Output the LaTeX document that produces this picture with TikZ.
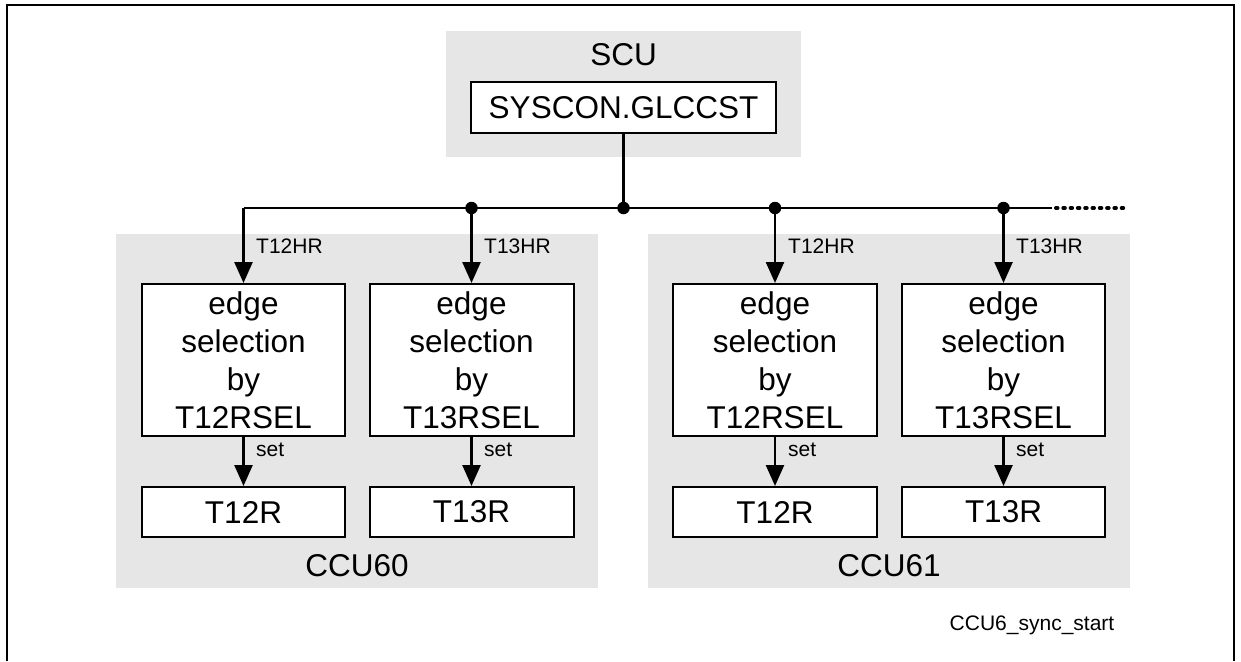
\documentclass[tikz,border=0pt]{standalone}
\usepackage{fontspec}
\setmainfont{Liberation Sans}
\usetikzlibrary{arrows.meta,calc}
\definecolor{bggray}{HTML}{E6E6E6}
\tikzset{
  grayarea/.style={fill=bggray, draw=none, inner sep=0pt},
  regbox/.style={draw=black, fill=white, line width=2pt, inner sep=0pt, align=center, font=\fontsize{31.5}{38}\selectfont},
  bigtxt/.style={inner sep=0pt, font=\fontsize{31.5}{38}\selectfont},
  smalltxt/.style={inner sep=0pt, font=\fontsize{21}{25}\selectfont},
  wire/.style={line width=2.5pt},
  arr/.style={line width=2.5pt, -{Triangle[length=21pt,width=18pt]}},
  junction/.style={circle, fill=black, inner sep=0pt, minimum size=12.5pt}
}
\begin{document}
\begin{tikzpicture}[x=1pt,y=-1pt]
\useasboundingbox (0,0) rectangle (1241,661);
% outer frame (bottom edge lies outside the picture)
\draw[line width=2pt] (7,661) -- (7,5) -- (1234,5) -- (1234,661);

% gray areas
\node[grayarea, minimum width=355pt, minimum height=126pt] (scu) at (623.5,94) {};
\node[grayarea, minimum width=482pt, minimum height=354pt] (ccu60) at (357,411) {};
\node[grayarea, minimum width=482pt, minimum height=354pt] (ccu61) at (889,411) {};

% titles
\node[bigtxt] (scul) at (623.5,55) {SCU};
\node[bigtxt] (ccu60l) at (357,566) {CCU60};
\node[bigtxt] (ccu61l) at (889,566) {CCU61};

% SYSCON box
\node[regbox, minimum width=305pt, minimum height=51pt] (syscon) at (623.5,107.5) {SYSCON.GLCCST};

% edge selection boxes
\node[regbox, text width=203pt, minimum height=152pt] (e1) at (243.5,360) {edge\\selection\\by\\T12RSEL};
\node[regbox, text width=204pt, minimum height=152pt] (e2) at (471.5,360) {edge\\selection\\by\\T13RSEL};
\node[regbox, text width=204pt, minimum height=152pt] (e3) at (775,360) {edge\\selection\\by\\T12RSEL};
\node[regbox, text width=203pt, minimum height=152pt] (e4) at (1003.5,360) {edge\\selection\\by\\T13RSEL};

% register boxes
\node[regbox, minimum width=203pt, minimum height=50pt] (r1) at (243.5,512) {T12R};
\node[regbox, minimum width=204pt, minimum height=50pt] (r2) at (471.5,512) {T13R};
\node[regbox, minimum width=204pt, minimum height=50pt] (r3) at (775,512) {T12R};
\node[regbox, minimum width=203pt, minimum height=50pt] (r4) at (1003.5,512) {T13R};

% bus coordinates
\coordinate (c0) at (243.5,208);
\coordinate (bend) at (1052,208);
\coordinate (bend2) at (1126,208);
\node[junction] (j1) at (471.5,208) {};
\node[junction] (j2) at (775,208) {};
\node[junction] (j3) at (1003.5,208) {};
\node[junction] (jm) at (623.5,208) {};

% bus
\draw[wire] (syscon.south) -- (jm.center);
\draw[wire] (c0) -- (bend);
\draw[line width=4pt, line cap=round, dash pattern=on 1.5pt off 5.8pt] ($(bend)+(4,0)$) -- (bend2);

% arrows to edge selection
\draw[arr] (c0) -- (e1.north);
\draw[arr] (j1.center) -- (e2.north);
\draw[arr] (j2.center) -- (e3.north);
\draw[arr] (j3.center) -- (e4.north);

% arrows set
\draw[arr] (e1.south) -- (r1.north);
\draw[arr] (e2.south) -- (r2.north);
\draw[arr] (e3.south) -- (r3.north);
\draw[arr] (e4.south) -- (r4.north);

% labels
\node[smalltxt, anchor=west] (l1) at (256,246) {T12HR};
\node[smalltxt, anchor=west] (l2) at (484,246) {T13HR};
\node[smalltxt, anchor=west] (l3) at (788,246) {T12HR};
\node[smalltxt, anchor=west] (l4) at (1016,246) {T13HR};
\node[smalltxt, anchor=west] (s1) at (256,450) {set};
\node[smalltxt, anchor=west] (s2) at (484,450) {set};
\node[smalltxt, anchor=west] (s3) at (788,450) {set};
\node[smalltxt, anchor=west] (s4) at (1016,450) {set};

\node[smalltxt] (fig) at (1032,625) {CCU6\_sync\_start};
\end{tikzpicture}
\end{document}
